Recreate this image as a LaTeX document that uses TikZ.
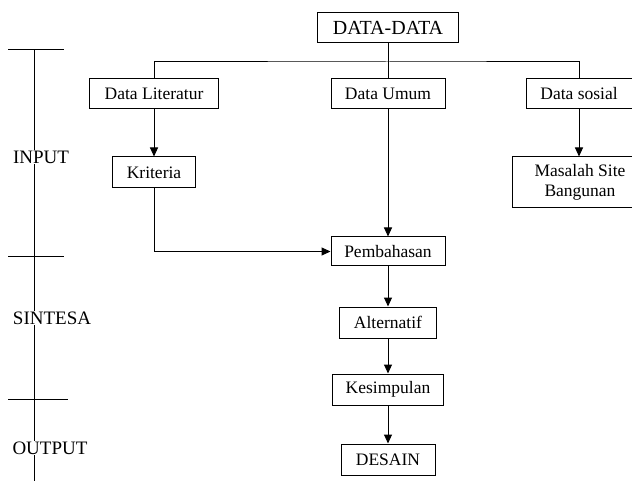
\documentclass[tikz,border=0pt]{standalone}
\usepackage{fontspec}
\setmainfont{Liberation Serif}
\usetikzlibrary{shapes,arrows,arrows.meta,positioning,calc}

\tikzset{
  kotak/.style={rectangle,draw,line width=1pt,minimum height=30pt,inner sep=0pt,align=center,font=\fontsize{17.5}{20}\selectfont},
  tahap/.style={fill=white,inner sep=1pt,font=\fontsize{19}{22}\selectfont},
  panah/.style={-{Triangle[length=9pt,width=8pt]},line width=1pt},
  garis/.style={line width=1pt},
}

\begin{document}
\begin{tikzpicture}[x=1pt,y=-1pt]
        \useasboundingbox (0,0) rectangle (632,481);

        % Garis tahapan
        \draw[garis] (34,50) -- (34,481);
        \draw[garis] (8,50) -- (64,50);
        \draw[garis] (8,257) -- (64,257);
        \draw[garis] (8,399) -- (68,399);
        \node[tahap] (input) at (41,157) {INPUT};
        \node[tahap] (sintesa) at (52,318) {SINTESA};
        \node[tahap] (output) at (50,448) {OUTPUT};

        % Data
        \node[kotak,minimum width=141pt,font=\fontsize{20}{22}\selectfont] (data) at (388,28) {DATA-DATA};
        \node[kotak,minimum width=129pt] (lit) at (154,94) {Data Literatur};
        \node[kotak,minimum width=114pt] (umum) at (388,94) {Data Umum};
        \node[kotak,minimum width=106pt] (sosial) at (579,94) {Data sosial};
        \coordinate (cabang) at (388,62);

        % Analisa
        \node[kotak,minimum width=83pt,minimum height=31pt] (krit) at (154,172.5) {Kriteria};
        \node[kotak,minimum width=136pt,minimum height=51pt] (masalah) at (580,182.5) {Masalah Site\\Bangunan};
        \node[kotak,minimum width=114pt,minimum height=29pt] (bahas) at (388,251.5) {Pembahasan};
        \node[kotak,minimum width=97pt,minimum height=31pt] (alt) at (388,322.5) {Alternatif};
        \node[kotak,minimum width=111pt,minimum height=31pt] (simpul) at (388,389.5) {Kesimpulan};
        \node[kotak,minimum width=94pt,minimum height=31pt] (desain) at (388,459.5) {DESAIN};

        % Hubungan
        \draw[garis] (data) -- (umum);
        \draw[garis] (lit.north) |- (cabang) -| (sosial.north);
        \draw[panah] (lit) -- (krit);
        \draw[panah] (sosial.south) -- (sosial.south |- masalah.north);
        \draw[panah] (krit.south) |- (bahas.west);
        \draw[panah] (umum) -- (bahas);
        \draw[panah] (bahas) -- (alt);
        \draw[panah] (alt) -- (simpul);
        \draw[panah] (simpul) -- (desain);
    \end{tikzpicture}
\end{document}
